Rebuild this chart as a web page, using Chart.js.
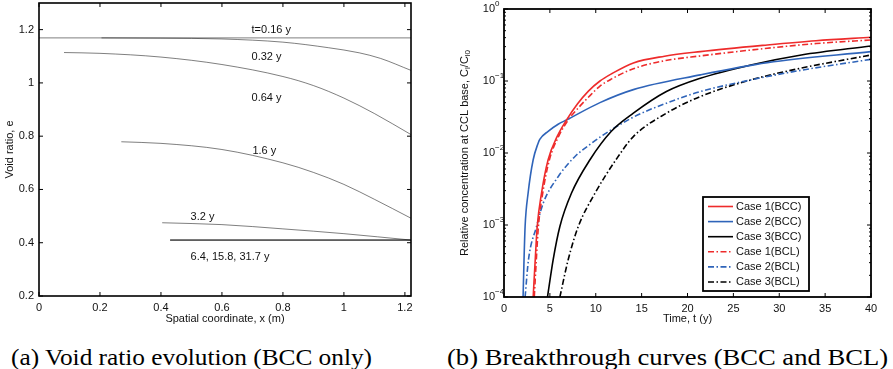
<!DOCTYPE html>
<html>
<head>
<meta charset="utf-8">
<script src="https://cdn.jsdelivr.net/npm/chart.js@4.4.1/dist/chart.umd.min.js"></script>
<style>
  html, body { margin: 0; padding: 0; background: #fff; }
  #wrap { position: relative; width: 893px; height: 369px; overflow: hidden; }
  .painel { position: absolute; top: 0; height: 330px; }
  #painel-a { left: 0; width: 445px; }
  #painel-b { left: 445px; width: 448px; }
  .legenda { position: absolute; top: 343px; font-family: "Liberation Serif", "Times New Roman", serif; font-size: 24px; line-height: 28px; white-space: nowrap; color: #000; transform-origin: 0 0; }
</style>
</head>
<body>
<div id="wrap">
  <div class="painel" id="painel-a"><canvas id="grafico-a"></canvas></div>
  <div class="painel" id="painel-b"><canvas id="grafico-b"></canvas></div>
  <div class="legenda" data-largura="361" style="left:11px">(a) Void ratio evolution (BCC only)</div>
  <div class="legenda" data-largura="441" style="left:447px">(b) Breakthrough curves (BCC and BCL)</div>
</div>
<script>
// ---------- (a) perfis de índice de vazios e(x) ----------
const ticksXa = [0, 0.2, 0.4, 0.6, 0.8, 1, 1.2];
const ticksYa = [0.2, 0.4, 0.6, 0.8, 1, 1.2];

const xT016 = [0, 1.22];
const eT016 = [1.169, 1.169];
const xT032 = [0.205, 0.4, 0.6, 0.8, 0.95, 1.05, 1.12, 1.22];
const eT032 = [1.169, 1.168, 1.165, 1.153, 1.132, 1.113, 1.092, 1.047];
const xT064 = [0.082, 0.2, 0.4, 0.6, 0.8, 0.9, 1.0, 1.1, 1.22];
const eT064 = [1.114, 1.111, 1.097, 1.069, 1.024, 0.99, 0.943, 0.885, 0.806];
const xT16 = [0.27, 0.4, 0.6, 0.8, 0.9, 1.0, 1.1, 1.22];
const eT16 = [0.779, 0.773, 0.75, 0.70, 0.664, 0.619, 0.563, 0.492];
const xT32 = [0.404, 0.6, 0.8, 1.0, 1.22];
const eT32 = [0.475, 0.468, 0.452, 0.434, 0.41];
// 6.4, 15.8 e 31.7 anos caem praticamente na mesma reta
const xTfinal = [0.43, 1.22];
const eTfinal = [0.41, 0.41];

const rotulosTexto = ["t=0.16 y", "0.32 y", "0.64 y", "1.6 y", "3.2 y", "6.4, 15.8, 31.7 y"];
const rotulosX = [0.697, 0.697, 0.697, 0.70, 0.497, 0.497];
const rotulosY = [1.197, 1.096, 0.944, 0.746, 0.498, 0.348];

// ---------- (b) curvas de chegada C/C0 x t (anos) ----------
const ticksXb = [0, 5, 10, 15, 20, 25, 30, 35, 40];
const expoentesYb = [0, -1, -2, -3, -4];

const tCaso1BCC = [3.18, 3.4, 3.62, 4.09, 4.81, 5.8, 6.82, 8.0, 9.2, 10.46, 11.73, 14.1, 17.5, 21.4, 28.7, 34, 40];
const cCaso1BCC = [1e-4, 3.24e-4, 9.55e-4, 2.78e-3, 8.05e-3, 0.017, 0.0288, 0.0479, 0.0724, 0.1, 0.126, 0.178, 0.221, 0.256, 0.317, 0.363, 0.405];
const tCaso2BCC = [2.08, 2.18, 2.3, 2.63, 3.18, 3.72, 3.9, 4.81, 5.9, 6.82, 10.46, 14.1, 21.4, 28.7, 40];
const cCaso2BCC = [1e-4, 3.2e-4, 9.55e-4, 2.78e-3, 8.05e-3, 0.0137, 0.0155, 0.02, 0.0251, 0.0288, 0.0501, 0.0759, 0.1216, 0.18, 0.256];
const tCaso3BCC = [4.74, 5.36, 6.09, 7.36, 9.37, 11.7, 14.1, 17.7, 21.4, 26.9, 32.4, 40];
const cCaso3BCC = [1e-4, 3.31e-4, 9.55e-4, 2.78e-3, 8.05e-3, 0.02, 0.0357, 0.0713, 0.109, 0.167, 0.23, 0.307];
const tCaso1BCL = [3.3, 3.52, 3.75, 4.22, 4.95, 5.95, 7.0, 8.2, 9.4, 10.46, 11.73, 14.1, 17.5, 21.4, 28.7, 34, 40];
const cCaso1BCL = [1e-4, 3.24e-4, 9.55e-4, 2.78e-3, 8.05e-3, 0.017, 0.0288, 0.0437, 0.0631, 0.0851, 0.107, 0.148, 0.191, 0.223, 0.285, 0.331, 0.372];
const tCaso2BCL = [2.3, 2.67, 3.55, 4.28, 5.92, 7.74, 9.56, 10.46, 14.1, 17.7, 21.4, 26.9, 32.4, 40];
const cCaso2BCL = [1e-4, 3.31e-4, 9.55e-4, 2.02e-3, 4.72e-3, 8.95e-3, 0.0137, 0.0166, 0.0315, 0.0492, 0.0713, 0.1035, 0.141, 0.2];
const tCaso3BCL = [6.09, 7.0, 8.1, 9.93, 12.2, 14.1, 17.7, 21.4, 26.9, 32.4, 40];
const cCaso3BCL = [1e-4, 3.31e-4, 9.55e-4, 2.78e-3, 8.05e-3, 0.0169, 0.0357, 0.0608, 0.1035, 0.151, 0.23];

const FONTE = '"Liberation Sans", Arial, Helvetica, sans-serif';
Chart.defaults.font.family = FONTE;
Chart.defaults.font.size = 11;
Chart.defaults.color = "#111";

const pontos = (xs, ys) => xs.map((x, i) => ({ x, y: ys[i] }));
const fmtNum = (v) => String(Number(v.toFixed(2)));

const VERMELHO = "#ee2b2b", AZUL = "#2f64b9", PRETO = "#000";
const TRACO_PONTO = [6, 2.5, 1.5, 2.5];

// Moldura estilo MATLAB: caixa fechada com marcas de escala para dentro
const moldura = {
  id: "moldura",
  afterDraw(chart, args, op) {
    const { ctx, chartArea: a, scales } = chart;
    ctx.save();
    ctx.strokeStyle = "#000";
    ctx.lineWidth = op.espessura || 1.5;
    ctx.strokeRect(a.left, a.top, a.right - a.left, a.bottom - a.top);
    const marca = (px, horiz, len) => {
      ctx.beginPath();
      if (horiz) {
        ctx.moveTo(px, a.bottom); ctx.lineTo(px, a.bottom - len);
        ctx.moveTo(px, a.top); ctx.lineTo(px, a.top + len);
      } else {
        ctx.moveTo(a.left, px); ctx.lineTo(a.left + len, px);
        ctx.moveTo(a.right, px); ctx.lineTo(a.right - len, px);
      }
      ctx.stroke();
    };
    ctx.lineWidth = 1;
    op.ticksX.forEach((v) => marca(scales.x.getPixelForValue(v), true, 4));
    if (op.log) {
      op.expoentes.forEach((k) => {
        marca(scales.y.getPixelForValue(Math.pow(10, k)), false, 4);
        if (k < 0) for (let m = 2; m <= 9; m++) marca(scales.y.getPixelForValue(m * Math.pow(10, k)), false, 2);
      });
      // rótulos 10^k
      ctx.fillStyle = "#111";
      ctx.textBaseline = "middle";
      op.expoentes.forEach((k) => {
        const py = scales.y.getPixelForValue(Math.pow(10, k));
        const xr = a.left - 9;
        ctx.font = "11px " + FONTE;
        ctx.textAlign = "right";
        ctx.fillText("10", xr, py);
        ctx.font = "8px " + FONTE;
        ctx.textAlign = "left";
        ctx.fillText(k === 0 ? "0" : "\u2212" + (-k), xr, py - 5);
      });
    } else {
      op.ticksY.forEach((v) => marca(scales.y.getPixelForValue(v), false, 4));
    }

    // títulos dos eixos
    ctx.fillStyle = "#111";
    ctx.font = "11px " + FONTE;
    ctx.textAlign = "center";
    ctx.textBaseline = "middle";
    ctx.fillText(op.tituloX, (a.left + a.right) / 2, op.tituloXy);
    ctx.save();
    ctx.translate(op.tituloYx, (a.top + a.bottom) / 2);
    ctx.rotate(-Math.PI / 2);
    const partes = op.tituloY;
    const larg = (p) => { ctx.font = (p.sub ? "8px " : "11px ") + FONTE; return ctx.measureText(p.t).width; };
    const total = partes.reduce((s, p) => s + larg(p), 0);
    let cx = -total / 2;
    ctx.textAlign = "left";
    partes.forEach((p) => {
      const w = larg(p);
      ctx.fillText(p.t, cx, p.sub ? 3 : 0);
      cx += w;
    });
    ctx.restore();
    ctx.restore();
  }
};

// Rótulos de tempo escritos junto às curvas do painel (a)
const rotulosCurvas = {
  id: "rotulosCurvas",
  afterDatasetsDraw(chart) {
    const { ctx, scales } = chart;
    ctx.save();
    ctx.fillStyle = "#111";
    ctx.font = "11px " + FONTE;
    ctx.textAlign = "left";
    ctx.textBaseline = "middle";
    rotulosTexto.forEach((t, i) => {
      ctx.fillText(t, scales.x.getPixelForValue(rotulosX[i]), scales.y.getPixelForValue(rotulosY[i]));
    });
    ctx.restore();
  }
};

// Legenda em caixa dentro da área do gráfico (b)
const legendaCaixa = {
  id: "legendaCaixa",
  afterDatasetsDraw(chart) {
    const { ctx, chartArea: a } = chart;
    const w = 106, h = 94;
    const x0 = a.right - 62 - w, y0 = a.bottom - 6 - h;
    ctx.save();
    ctx.fillStyle = "#fff";
    ctx.fillRect(x0, y0, w, h);
    ctx.strokeStyle = "#000";
    ctx.lineWidth = 1.8;
    ctx.strokeRect(x0, y0, w, h);
    ctx.font = "11px " + FONTE;
    ctx.textBaseline = "middle";
    ctx.textAlign = "left";
    chart.data.datasets.forEach((ds, i) => {
      const y = y0 + 9.5 + i * 15.1;
      ctx.beginPath();
      ctx.strokeStyle = ds.borderColor;
      ctx.lineWidth = ds.borderWidth;
      ctx.setLineDash(ds.borderDash || []);
      ctx.moveTo(x0 + 5, y);
      ctx.lineTo(x0 + 30, y);
      ctx.stroke();
      ctx.setLineDash([]);
      ctx.fillStyle = "#111";
      ctx.fillText(ds.label, x0 + 33, y);
    });
    ctx.restore();
  }
};

const cinza = (label, xs, es) => ({
  label, data: pontos(xs, es), borderColor: "rgba(0,0,0,0.5)", borderWidth: 1,
  pointRadius: 0, cubicInterpolationMode: "monotone", fill: false
});

new Chart(document.getElementById("grafico-a"), {
  type: "line",
  data: {
    datasets: [
      cinza("t=0.16 y", xT016, eT016),
      cinza("0.32 y", xT032, eT032),
      cinza("0.64 y", xT064, eT064),
      cinza("1.6 y", xT16, eT16),
      cinza("3.2 y", xT32, eT32),
      cinza("6.4 y", xTfinal, eTfinal),
      cinza("15.8 y", xTfinal, eTfinal),
      cinza("31.7 y", xTfinal, eTfinal)
    ]
  },
  options: {
    responsive: true, maintainAspectRatio: false, animation: false,
    layout: { padding: { left: 0, right: 34, top: 3, bottom: 0 } },
    plugins: {
      legend: { display: false }, tooltip: { enabled: false },
      moldura: {
        ticksX: ticksXa, ticksY: ticksYa, espessura: 1.6,
        tituloX: "Spatial coordinate, x (m)", tituloXy: 319,
        tituloY: [{ t: "Void ratio, e" }], tituloYx: 10
      }
    },
    scales: {
      x: {
        type: "linear", min: 0, max: 1.22,
        grid: { display: false, drawTicks: false }, border: { display: false },
        afterBuildTicks: (s) => { s.ticks = ticksXa.map((v) => ({ value: v })); },
        afterFit: (s) => { s.height = 34; s.paddingLeft = 0; s.paddingRight = 0; },
        ticks: { padding: 5, autoSkip: false, maxRotation: 0, includeBounds: false, callback: fmtNum }
      },
      y: {
        type: "linear", min: 0.2, max: 1.3,
        grid: { display: false, drawTicks: false }, border: { display: false },
        afterBuildTicks: (s) => { s.ticks = ticksYa.map((v) => ({ value: v })); },
        afterFit: (s) => { s.width = 39; s.paddingTop = 0; s.paddingBottom = 0; },
        ticks: { padding: 5, autoSkip: false, includeBounds: false, callback: fmtNum }
      }
    }
  },
  plugins: [moldura, rotulosCurvas]
});

const curva = (label, ts, cs, cor, tracejada) => ({
  label, data: pontos(ts, cs), borderColor: cor, borderWidth: 1.6,
  borderDash: tracejada ? TRACO_PONTO : [], pointRadius: 0,
  cubicInterpolationMode: "monotone", fill: false
});

new Chart(document.getElementById("grafico-b"), {
  type: "line",
  data: {
    datasets: [
      curva("Case 1(BCC)", tCaso1BCC, cCaso1BCC, VERMELHO, false),
      curva("Case 2(BCC)", tCaso2BCC, cCaso2BCC, AZUL, false),
      curva("Case 3(BCC)", tCaso3BCC, cCaso3BCC, PRETO, false),
      curva("Case 1(BCL)", tCaso1BCL, cCaso1BCL, VERMELHO, true),
      curva("Case 2(BCL)", tCaso2BCL, cCaso2BCL, AZUL, true),
      curva("Case 3(BCL)", tCaso3BCL, cCaso3BCL, PRETO, true)
    ]
  },
  options: {
    responsive: true, maintainAspectRatio: false, animation: false,
    layout: { padding: { left: 0, right: 22, top: 9, bottom: 0 } },
    plugins: {
      legend: { display: false }, tooltip: { enabled: false },
      moldura: {
        ticksX: ticksXb, log: true, expoentes: expoentesYb, espessura: 1.8,
        tituloX: "Time, t (y)", tituloXy: 319,
        tituloY: [{ t: "Relative concentration at CCL base, C" }, { t: "l", sub: true }, { t: "/C" }, { t: "l0", sub: true }],
        tituloYx: 20
      }
    },
    scales: {
      x: {
        type: "linear", min: 0, max: 40,
        grid: { display: false, drawTicks: false }, border: { display: false },
        afterBuildTicks: (s) => { s.ticks = ticksXb.map((v) => ({ value: v })); },
        afterFit: (s) => { s.height = 33; },
        ticks: { padding: 5, autoSkip: false, maxRotation: 0, includeBounds: false }
      },
      y: {
        type: "logarithmic", min: 1e-4, max: 1,
        grid: { display: false, drawTicks: false }, border: { display: false },
        afterFit: (s) => { s.width = 59; },
        ticks: { display: false }
      }
    }
  },
  plugins: [moldura, legendaCaixa]
});

// legendas das figuras: ajusta a largura horizontal de cada uma
document.querySelectorAll(".legenda").forEach((el) => {
  const alvo = Number(el.dataset.largura);
  const w = el.getBoundingClientRect().width;
  if (w > 0) el.style.transform = `scaleX(${alvo / w})`;
});
</script>
</body>
</html>
